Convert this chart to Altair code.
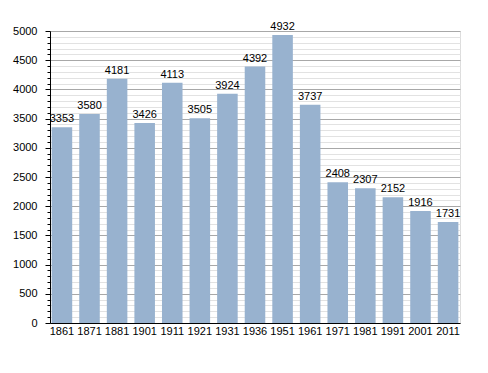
import altair as alt
import pandas as pd

years = ["1861", "1871", "1881", "1901", "1911", "1921", "1931", "1936",
         "1951", "1961", "1971", "1981", "1991", "2001", "2011"]
population = [3353, 3580, 4181, 3426, 4113, 3505, 3924, 4392,
              4932, 3737, 2408, 2307, 2152, 1916, 1731]
y_ticks = list(range(0, 5001, 100))

df = pd.DataFrame({"year": years, "pop": population})

is_major = "datum.value % 500 === 0"

x = alt.X("year:N", sort=None, title=None,
          scale=alt.Scale(paddingInner=0.255, paddingOuter=0.06),
          axis=alt.Axis(labelAngle=0, ticks=False, domainColor="black",
                        labelColor="black", labelFont="Liberation Sans",
                        labelFontSize=11, labelPadding=2, labelOverlap=False))
y = alt.Y("pop:Q", title=None,
          scale=alt.Scale(domain=[0, 5000], nice=False),
          axis=alt.Axis(values=y_ticks,
                        labelExpr="datum.value % 500 === 0 ? datum.label : ''",
                        format="d", labelOverlap=False, labelBound=False,
                        labelColor="black", labelFont="Liberation Sans",
                        labelFontSize=11, labelPadding=8,
                        domainColor="black", tickColor="black",
                        tickSize={"condition": {"test": is_major, "value": 5}, "value": 3},
                        gridColor={"condition": {"test": is_major, "value": "#a8a8a8"}, "value": "#e2e2e2"},
                        gridWidth=1))

bars = alt.Chart(df).mark_bar(color="#98b2cf").encode(x=x, y=y)
labels = alt.Chart(df).mark_text(dy=-3, fontSize=11, font="Liberation Sans",
                                 color="black", baseline="bottom").encode(
    x=x, y=y, text="pop:Q")

chart = alt.layer(bars, labels).properties(
    width=410, height=292,
    autosize=alt.AutoSizeParams(type="none"),
    padding={"left": 42, "top": 23, "right": 20, "bottom": 40},
).configure_view(stroke=None).configure(background="white")

chart.save("out.html", embed_options={"renderer": "svg", "actions": False})
